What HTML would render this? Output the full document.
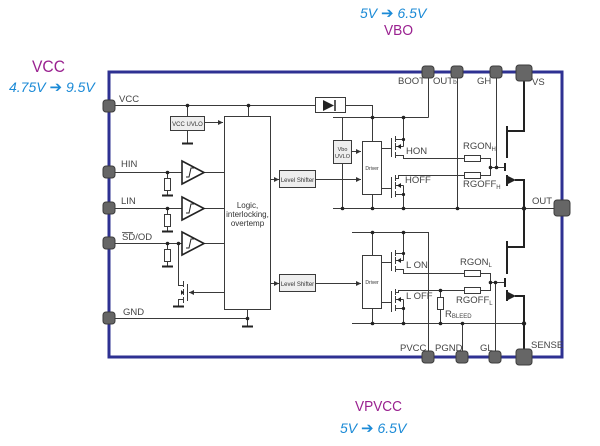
<!DOCTYPE html>
<html><head><meta charset="utf-8"><style>
html,body{margin:0;padding:0;background:#fff;}
svg{display:block;}
text{font-family:"Liberation Sans",Arial,sans-serif;}
.ar{font-family:"DejaVu Sans",sans-serif;font-style:normal;}
</style></head><body>
<svg width="600" height="446" viewBox="0 0 600 446" xmlns="http://www.w3.org/2000/svg">
<defs>
<marker id="ar" markerWidth="6" markerHeight="6" refX="5" refY="3" orient="auto" markerUnits="userSpaceOnUse">
<path d="M0,0.5 L5,3 L0,5.5 Z" fill="#333"/>
</marker>
</defs>

<text x="32" y="72" font-size="17" fill="#9a2190" textLength="33" lengthAdjust="spacingAndGlyphs">VCC</text>
<text x="9" y="92" font-size="14" font-style="italic" fill="#1b8ad6">4.75V <tspan class="ar" font-size="15">➔</tspan> 9.5V</text>
<text x="360" y="18" font-size="14" font-style="italic" fill="#1b8ad6">5V <tspan class="ar" font-size="15">➔</tspan> 6.5V</text>
<text x="384" y="35" font-size="15" fill="#9a2190" textLength="29" lengthAdjust="spacingAndGlyphs">VBO</text>
<text x="355" y="411" font-size="15" fill="#9a2190" textLength="47" lengthAdjust="spacingAndGlyphs">VPVCC</text>
<text x="340" y="433" font-size="14" font-style="italic" fill="#1b8ad6">5V <tspan class="ar" font-size="15">➔</tspan> 6.5V</text>

<rect x="109" y="72" width="453" height="285" fill="none" stroke="#2e3192" stroke-width="3"/>

<g stroke="#3a3a3a" stroke-width="1" fill="none">
<path d="M115 105.5 H315 M345 105.5 H372.5 V117.5"/>
<path d="M187.5 105.5 V116 M187.5 130 V143"/>
<path d="M204 122.5 H223" marker-end="url(#ar)"/>
<path d="M248.5 105.5 V116"/>
<path d="M115 172.5 H182 M204 172.5 H224"/>
<path d="M115 208.5 H182 M204 208.5 H224"/>
<path d="M115 243.5 H182 M204 243.5 H224"/>
<path d="M167.5 172.5 V178 M167.5 190 V195"/>
<path d="M167.5 208.5 V214 M167.5 226 V231"/>
<path d="M167.5 243.5 V249 M167.5 261 V266"/>
<path d="M178.5 243.5 V285.5 H183"/>
<path d="M183.5 281 V287 M183.5 289 V295 M183.5 297 V303"/>
<path d="M187.5 284 V301"/>
<path d="M183.5 299.5 H178.5 V306"/>
<path d="M224 292.5 H189" marker-end="url(#ar)"/>
<path d="M115 318.5 H247.5 M247.5 309 V326"/>
<path d="M270 179.5 H279" marker-end="url(#ar)"/>
<path d="M270 283.5 H279" marker-end="url(#ar)"/>
<path d="M316 179.5 H361" marker-end="url(#ar)"/>
<path d="M316 283.5 H361" marker-end="url(#ar)"/>

<path d="M333 117.5 H428.5 M428.5 78 V117.5"/>
<path d="M342.5 117.5 V140 M342.5 163 V208"/>
<path d="M351 151.5 H361" marker-end="url(#ar)"/>
<path d="M372.5 117.5 V141 M372.5 194 V208"/>
<path d="M333 208.5 H556"/>
<path d="M457.5 78 V208"/>
<path d="M381 148.5 H391.5 M391.5 138 V157"/>
<path d="M395.5 136 V142 M395.5 143 V150 M395.5 152 V158"/>
<path d="M395.5 139.5 H403.5 M395.5 146.5 H403.5 M403.5 117.5 V146.5"/>
<path d="M395.5 155.5 H403.5 V158.5 H464"/>
<path d="M381 188.5 H391.5 M391.5 177 V198"/>
<path d="M395.5 175 V181 M395.5 182 V189 M395.5 191 V197"/>
<path d="M395.5 178.5 H398.5 V175.5 H464"/>
<path d="M395.5 185.5 H403.5 M395.5 194.5 H403.5 M403.5 185.5 V208.5"/>
<path d="M480 158.5 H490.5 V175.5 H480 M490.5 167.5 H505"/>
<path d="M496.5 78 V167.5"/>

<path d="M352 232.5 H428.5 V351"/>
<path d="M372.5 232.5 V255 M372.5 308 V323"/>
<path d="M352 323.5 H524"/>
<path d="M462.5 323.5 V351"/>
<path d="M381 262.5 H391.5 M391.5 252 V271"/>
<path d="M395.5 250 V256 M395.5 257 V264 M395.5 266 V272"/>
<path d="M395.5 253.5 H403.5 M395.5 260.5 H403.5 M403.5 232.5 V260.5"/>
<path d="M395.5 269.5 H403.5 V273.5 H464"/>
<path d="M381 302.5 H391.5 M391.5 291 V312"/>
<path d="M395.5 289 V295 M395.5 296 V303 M395.5 305 V311"/>
<path d="M395.5 292.5 H398.5 V290.5 H464"/>
<path d="M395.5 299.5 H403.5 M395.5 308.5 H403.5 M403.5 299.5 V323.5"/>
<path d="M440.5 290.5 V297 M440.5 309 V323.5"/>
<path d="M480 273.5 H490.5 V290.5 H480 M490.5 282.5 H505"/>
<path d="M495.5 282.5 V351"/>
</g>

<g stroke="#3a3a3a" stroke-width="1">
<rect x="315.5" y="97.5" width="30" height="15" fill="#fff"/>
<rect x="170.5" y="116.5" width="34" height="14" fill="#eee"/>
<rect x="224.5" y="116.5" width="46" height="193" fill="#fff"/>
<rect x="279.5" y="170.5" width="36" height="17" fill="#eee"/>
<rect x="279.5" y="274.5" width="36" height="17" fill="#eee"/>
<rect x="333.5" y="140.5" width="18" height="23" fill="#eee"/>
<rect x="362.5" y="141.5" width="19" height="53" fill="#fff"/>
<rect x="362.5" y="255.5" width="19" height="53" fill="#fff"/>
<rect x="164.5" y="178.5" width="6" height="12" fill="#fff"/>
<rect x="164.5" y="214.5" width="6" height="12" fill="#fff"/>
<rect x="164.5" y="249.5" width="6" height="12" fill="#fff"/>
<rect x="464.5" y="155.5" width="16" height="6" fill="#fff"/>
<rect x="464.5" y="172.5" width="16" height="6" fill="#fff"/>
<rect x="464.5" y="270.5" width="16" height="6" fill="#fff"/>
<rect x="464.5" y="287.5" width="16" height="6" fill="#fff"/>
<rect x="437.5" y="297.5" width="6" height="12" fill="#fff"/>
</g>

<path d="M323 100 L334 105.5 L323 111 Z" fill="#222"/>
<path d="M335 100 V111" stroke="#222" stroke-width="1.5"/>

<g stroke="#222" stroke-width="1.6" fill="#fff">
<path d="M182 161 L204 172.5 L182 184 Z"/>
<path d="M182 197 L204 208.5 L182 220 Z"/>
<path d="M182 232 L204 243.5 L182 255 Z"/>
</g>
<g stroke="#222" stroke-width="1" fill="none">
<path d="M186 177 H189 L191 168 H194"/>
<path d="M186 213 H189 L191 204 H194"/>
<path d="M186 248 H189 L191 239 H194"/>
</g>

<g stroke="#222" stroke-width="2">
<path d="M182 143.5 H193"/>
<path d="M162 195.5 H173"/>
<path d="M162 231.5 H173"/>
<path d="M162 266.5 H173"/>
<path d="M173 306.5 H184"/>
<path d="M242 326.5 H253"/>
</g>

<g stroke="#222" stroke-width="2" fill="none">
<path d="M524 80 V131 H507"/>
<path d="M507 126 V158"/>
<path d="M505 163 V171"/>
<path d="M507 175 V186"/>
<path d="M515 180 H524 V208"/>
<path d="M524 208 V247 H507"/>
<path d="M507 241 V274"/>
<path d="M505 278 V287"/>
<path d="M507 290 V301"/>
<path d="M515 296 H524 V349"/>
</g>
<path d="M508 176 L516 180 L508 184 Z" fill="#222"/>
<path d="M508 292 L516 296 L508 300 Z" fill="#222"/>
<g fill="#222">
<path d="M397 146.5 L401 144 L401 149 Z"/>
<path d="M397 185.5 L401 183 L401 188 Z"/>
<path d="M397 260.5 L401 258 L401 263 Z"/>
<path d="M397 299.5 L401 297 L401 302 Z"/>
<path d="M184 292.5 L181 290 L181 295 Z"/>
</g>

<g fill="#222">
<circle cx="187.5" cy="105.5" r="1.8"/>
<circle cx="248.5" cy="105.5" r="1.8"/>
<circle cx="167.5" cy="172.5" r="1.8"/>
<circle cx="167.5" cy="208.5" r="1.8"/>
<circle cx="167.5" cy="243.5" r="1.8"/>
<circle cx="178.5" cy="243.5" r="1.8"/>
<circle cx="247.5" cy="318.5" r="1.8"/>
<circle cx="372.5" cy="117.5" r="1.8"/>
<circle cx="403.5" cy="117.5" r="1.8"/>
<circle cx="403.5" cy="139.5" r="1.6"/>
<circle cx="403.5" cy="194.5" r="1.6"/>
<circle cx="342.5" cy="208.5" r="1.8"/>
<circle cx="372.5" cy="208.5" r="1.8"/>
<circle cx="403.5" cy="208.5" r="1.8"/>
<circle cx="457.5" cy="208.5" r="1.8"/>
<circle cx="524" cy="208.5" r="2.2"/>
<circle cx="490.5" cy="167.5" r="1.8"/>
<circle cx="496.5" cy="167.5" r="1.8"/>
<circle cx="372.5" cy="232.5" r="1.8"/>
<circle cx="403.5" cy="232.5" r="1.8"/>
<circle cx="403.5" cy="253.5" r="1.6"/>
<circle cx="403.5" cy="308.5" r="1.6"/>
<circle cx="440.5" cy="290.5" r="1.8"/>
<circle cx="372.5" cy="323.5" r="1.8"/>
<circle cx="403.5" cy="323.5" r="1.8"/>
<circle cx="440.5" cy="323.5" r="1.8"/>
<circle cx="462.5" cy="323.5" r="1.8"/>
<circle cx="524" cy="323.5" r="2.2"/>
<circle cx="490.5" cy="282.5" r="1.8"/>
<circle cx="495.5" cy="282.5" r="1.8"/>
</g>

<g fill="#666" stroke="#3c3c3c" stroke-width="1">
<rect x="103" y="100" width="12" height="12" rx="3"/>
<rect x="103" y="166" width="12" height="12" rx="3"/>
<rect x="103" y="202" width="12" height="12" rx="3"/>
<rect x="103" y="237" width="12" height="12" rx="3"/>
<rect x="103" y="312" width="12" height="12" rx="3"/>
<rect x="422" y="66" width="12" height="12" rx="3"/>
<rect x="451" y="66" width="12" height="12" rx="3"/>
<rect x="490" y="66" width="12" height="12" rx="3"/>
<rect x="516" y="65" width="16" height="16" rx="3"/>
<rect x="554" y="200" width="16" height="16" rx="3"/>
<rect x="422" y="351" width="12" height="12" rx="3"/>
<rect x="456" y="351" width="12" height="12" rx="3"/>
<rect x="489" y="351" width="12" height="12" rx="3"/>
<rect x="516" y="349" width="16" height="16" rx="3"/>
</g>

<g font-size="9.5" fill="#444">
<text x="119" y="102">VCC</text>
<text x="121" y="167">HIN</text>
<text x="121" y="204">LIN</text>
<text x="122" y="240">SD/OD</text>
<text x="123" y="315">GND</text>
<text x="398" y="84">BOOT</text>
<text x="433" y="84">OUT<tspan font-size="6.5">b</tspan></text>
<text x="477" y="84">GH</text>
<text x="532" y="85">VS</text>
<text x="532" y="204">OUT</text>
<text x="400" y="351">PVCC</text>
<text x="435" y="351">PGND</text>
<text x="480" y="351">GL</text>
<text x="531" y="348">SENSE</text>
<text x="406" y="154">HON</text>
<text x="405" y="183">HOFF</text>
<text x="406" y="268">L ON</text>
<text x="406" y="299">L OFF</text>
<text x="463" y="149">RGON<tspan font-size="6" dy="2">H</tspan></text>
<text x="463" y="187">RGOFF<tspan font-size="6" dy="2">H</tspan></text>
<text x="460" y="265">RGON<tspan font-size="6" dy="2">L</tspan></text>
<text x="456" y="303">RGOFF<tspan font-size="6" dy="2">L</tspan></text>
<text x="445" y="317">R<tspan font-size="6" dy="1">BLEED</tspan></text>
</g>
<path d="M122 232.5 H133" stroke="#444" stroke-width="0.8"/>

<g fill="#333" text-anchor="middle">
<text x="187.5" y="126" font-size="6">VCC UVLO</text>
<text x="247.5" y="208" font-size="8">Logic,</text>
<text x="247.5" y="217" font-size="8">interlocking,</text>
<text x="247.5" y="226" font-size="8">overtemp</text>
<text x="297.5" y="182" font-size="6">Level Shifter</text>
<text x="297.5" y="286" font-size="6">Level Shifter</text>
<text x="342.5" y="151" font-size="5.5">Vbo</text>
<text x="342.5" y="158" font-size="5.5">UVLO</text>
<text x="372" y="170" font-size="5">Driver</text>
<text x="372" y="284" font-size="5">Driver</text>
</g>
</svg>
</body></html>
